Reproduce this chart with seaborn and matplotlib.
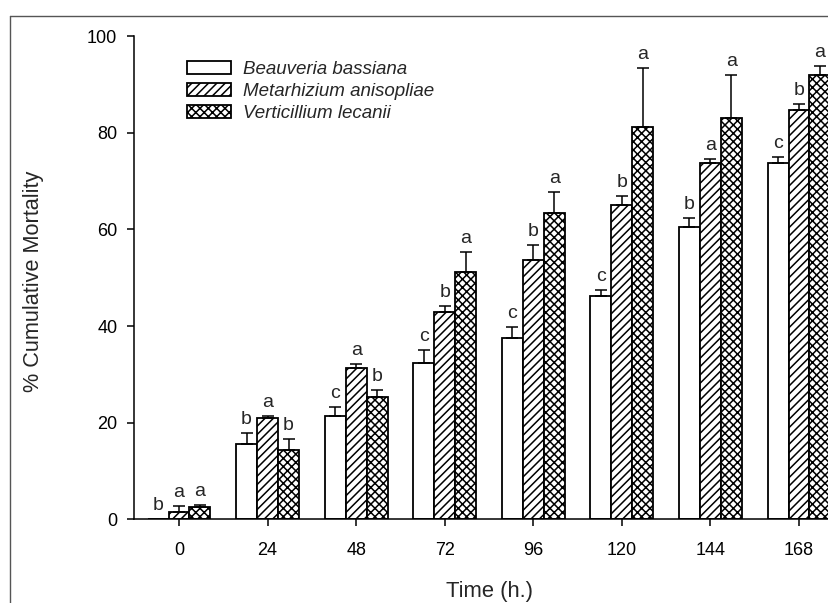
import numpy as np
import pandas as pd
import seaborn as sns
import matplotlib
matplotlib.use("Agg")
import matplotlib.pyplot as plt
from matplotlib.patches import Patch
from matplotlib.lines import Line2D

# ---------------- data ----------------
times = ["0", "24", "48", "72", "96", "120", "144", "168"]
species = ["Beauveria bassiana", "Metarhizium anisopliae", "Verticillium lecanii"]
bb_mean = [0.0, 15.5, 21.4, 32.4, 37.5, 46.2, 60.5, 73.7]
bb_err = [0.0, 2.4, 1.9, 2.6, 2.3, 1.2, 1.9, 1.4]
ma_mean = [1.6, 21.0, 31.3, 43.0, 53.7, 65.1, 73.7, 84.7]
ma_err = [1.2, 0.4, 0.9, 1.1, 3.1, 1.9, 0.9, 1.3]
vl_mean = [2.5, 14.3, 25.4, 51.1, 63.4, 81.3, 83.1, 92.0]
vl_err = [0.4, 2.4, 1.3, 4.3, 4.4, 12.1, 8.9, 1.9]
bb_letters = ["b", "b", "c", "c", "c", "c", "b", "c"]
ma_letters = ["a", "a", "a", "b", "b", "b", "a", "b"]
vl_letters = ["a", "b", "b", "a", "a", "a", "a", "a"]
y_ticks = [0, 20, 40, 60, 80, 100]

means = [bb_mean, ma_mean, vl_mean]
errs = [bb_err, ma_err, vl_err]
letters = [bb_letters, ma_letters, vl_letters]
hatches = ["", "////", "xxxx"]

df = pd.DataFrame({
    "time": np.repeat([times], 3, axis=0).ravel(),
    "species": np.repeat(species, len(times)),
    "value": np.concatenate(means),
})

# ---------------- style ----------------
sns.set_style("ticks")
plt.rcParams["font.family"] = ["Liberation Sans", "DejaVu Sans"]
plt.rcParams["hatch.linewidth"] = 1.1
plt.rcParams["hatch.color"] = "black"

fig = plt.figure(figsize=(8.29, 6.03), dpi=100)
ax = fig.add_axes([134 / 829, (603 - 519.3) / 603, 695 / 829, 483 / 603])

sns.barplot(data=df, x="time", y="value", hue="species", order=times,
            hue_order=species, palette=["white"] * 3, width=0.71,
            errorbar=None, edgecolor="black", linewidth=1.3,
            legend=False, ax=ax, saturation=1)

bar_conts = list(ax.containers)
for i, cont in enumerate(bar_conts):
    bars = [b for b in cont.patches]
    for bar in bars:
        bar.set_hatch(hatches[i])
        bar.set_facecolor("white")
        bar.set_edgecolor("black")
    xs = np.array([b.get_x() + b.get_width() / 2 for b in bars])
    m = np.array(means[i])
    e = np.array(errs[i])
    mask = e > 0
    ax.errorbar(xs[mask], m[mask], yerr=[np.zeros(mask.sum()), e[mask]],
                fmt="none", ecolor="black", elinewidth=1.1, capsize=4.5,
                capthick=1.1, zorder=1)
    for x, y, err, lab in zip(xs, m, e, letters[i]):
        ax.annotate(lab, (x, y + err), xytext=(0, 6.5),
                    textcoords="offset points", ha="center", va="baseline",
                    fontsize=14)

ax.set_ylim(0, 100)
ax.set_xlim(-0.508, -0.508 + 695 / 88.57)
ax.set_yticks(y_ticks)
ax.set_yticklabels([str(t) for t in y_ticks])
ax.tick_params(axis="both", labelsize=13, direction="out", width=1.1,
               color="black", labelcolor="black")
ax.tick_params(axis="y", length=5, pad=7)
ax.tick_params(axis="x", length=5, pad=11)
for s in ["top", "right"]:
    ax.spines[s].set_visible(False)
for s in ["left", "bottom"]:
    ax.spines[s].set_linewidth(1.1)
    ax.spines[s].set_color("black")

ax.set_xlabel("Time (h.)", fontsize=15.8)
ax.set_ylabel("% Cumulative Mortality", fontsize=15.6)
ax.xaxis.set_label_coords(0.511, -0.127)
ax.yaxis.set_label_coords(-0.13, 0.492)

handles = [Patch(facecolor="white", edgecolor="black", hatch=h, linewidth=1.3)
           for h in hatches]
leg = ax.legend(handles, species, loc="upper left", frameon=False,
                bbox_to_anchor=((186.7 - 134) / 695, (519.3 - 61) / 483),
                borderpad=0, borderaxespad=0, handlelength=2.35,
                handleheight=0.64, handletextpad=0.63, labelspacing=0.27,
                prop={"size": 13.5, "style": "italic"})

# outer frame (left and top edges visible)
fig.add_artist(Line2D([10.5 / 829, 10.5 / 829], [0, 1 - 15.5 / 603],
                      transform=fig.transFigure, color="#555555", lw=1.0))
fig.add_artist(Line2D([10.5 / 829, 1], [1 - 15.5 / 603, 1 - 15.5 / 603],
                      transform=fig.transFigure, color="#555555", lw=1.0))

fig.savefig("out.png", dpi=100)
